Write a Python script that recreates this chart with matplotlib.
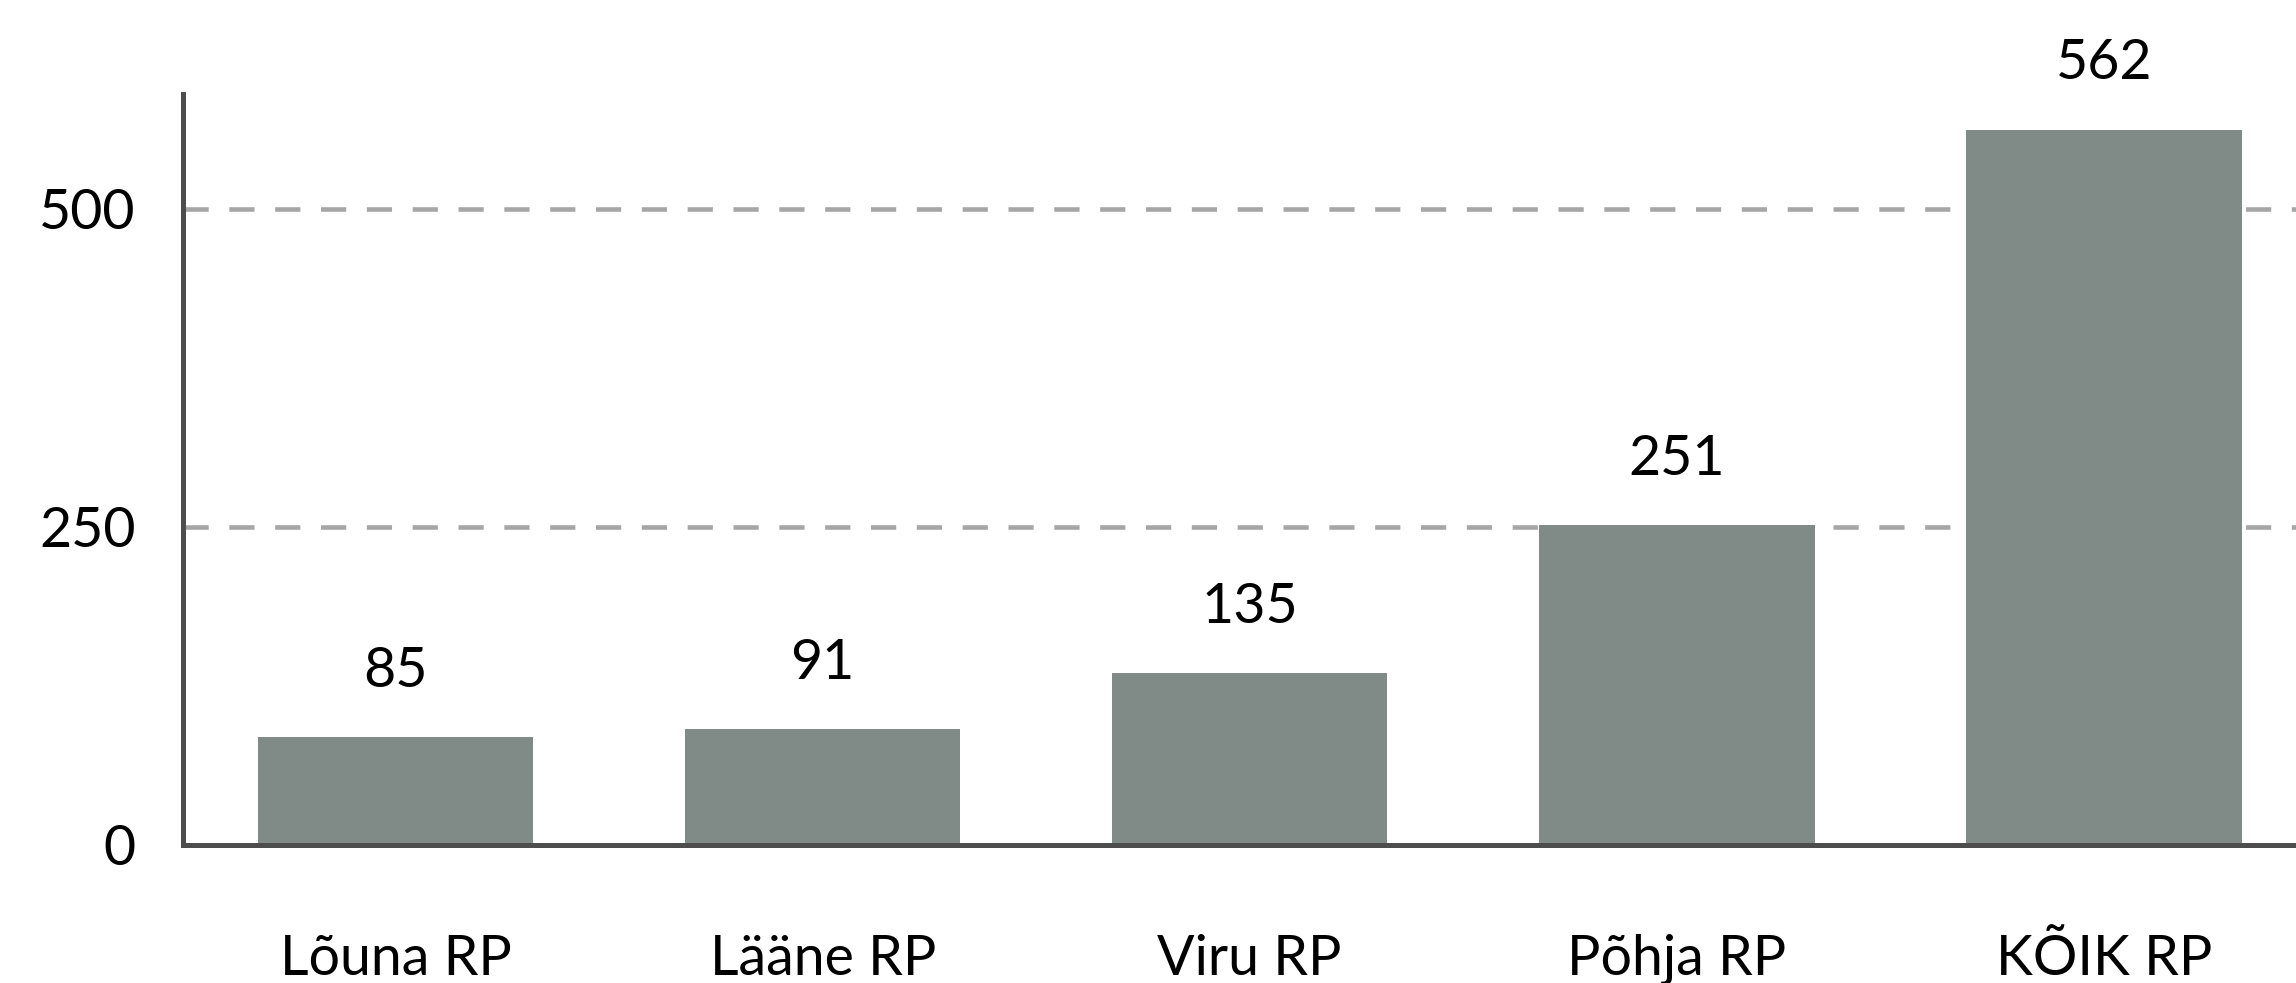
import matplotlib
matplotlib.use("Agg")  # headless
import matplotlib.pyplot as plt

categories = ["Lõuna RP", "Lääne RP", "Viru RP", "Põhja RP", "KÕIK RP"]
values = [85, 91, 135, 251, 562]
yticks = [0, 250, 500]

plt.rcParams["font.family"] = ["Lato", "DejaVu Sans"]

fig = plt.figure(figsize=(22.96, 9.83), dpi=100)
ax = fig.add_axes([0.0797, 0.1404, 0.9203, 0.764])

x = list(range(len(categories)))
bars = ax.bar(x, values, width=0.645, color="#808a87", zorder=3)

for xi, v in zip(x, values):
    ax.annotate(str(v), (xi, v), xytext=(0, 29), textcoords="offset points",
                ha="center", va="bottom", fontsize=40, color="black")

ax.set_xlim(-0.498, 4.45)
ax.set_ylim(0, 590)
ax.set_yticks(yticks)
ax.set_xticks(x)
ax.set_xticklabels(categories)

# dashed grid lines
ax.yaxis.grid(True, color="#a6a6a6", linewidth=3.3, dashes=(5.5, 4.5), zorder=0)
ax.set_axisbelow(True)

for s in ["top", "right"]:
    ax.spines[s].set_visible(False)
for s in ["left", "bottom"]:
    ax.spines[s].set_color("#4d4d4d")
    ax.spines[s].set_linewidth(3.6)
    ax.spines[s].set_zorder(4)

ax.tick_params(axis="y", length=0, pad=34, labelsize=40, labelcolor="black")
ax.tick_params(axis="x", length=0, pad=64, labelsize=40, labelcolor="black")

fig.savefig("out.png", dpi=100)
plt.close(fig)
